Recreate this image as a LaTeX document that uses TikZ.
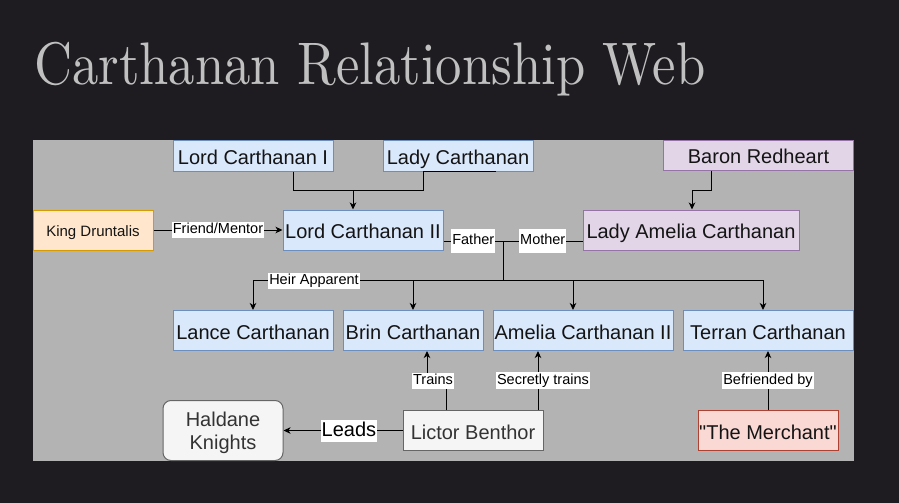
\documentclass[tikz,border=0pt]{standalone}
\usepackage{fontspec}
\usepackage{graphicx}
\newfontfamily\sansf{Liberation Sans}
\usetikzlibrary{arrows.meta,calc}
\definecolor{cbg}{HTML}{1F1C21}
\definecolor{cpanel}{HTML}{B3B3B3}
\definecolor{ctitle}{HTML}{C0C0C0}
\definecolor{cbluef}{HTML}{DAE8FC}
\definecolor{cblued}{HTML}{6C8EBF}
\definecolor{corangef}{HTML}{FFE6CC}
\definecolor{coranged}{HTML}{D79B00}
\definecolor{cpurplef}{HTML}{E1D5E7}
\definecolor{cpurpled}{HTML}{9673A6}
\definecolor{credf}{HTML}{FAD9D5}
\definecolor{credd}{HTML}{AE4132}
\definecolor{cgrayf}{HTML}{F5F5F5}
\definecolor{cgrayd}{HTML}{666666}
\definecolor{ctext}{HTML}{141414}
\definecolor{cgtext}{HTML}{333333}
\tikzset{
  nbox/.style={draw, line width=1pt, inner sep=0pt, align=center, font=\sansf\fontsize{20}{23}\selectfont, text=ctext, text height=17pt, text depth=0pt},
  bluebox/.style={nbox, fill=cbluef, draw=cblued},
  orangebox/.style={nbox, fill=corangef, draw=coranged},
  purplebox/.style={nbox, fill=cpurplef, draw=cpurpled},
  redbox/.style={nbox, fill=credf, draw=credd},
  graybox/.style={nbox, fill=cgrayf, draw=cgrayd, text=cgtext},
  lbl/.style={fill=white, inner xsep=1pt, inner ysep=1pt, text height=11pt, text depth=3.5pt, font=\sansf\fontsize{14.5}{16}\selectfont, text=black},
  conn/.style={line width=1pt, draw=black},
  arr/.style={conn, -{Stealth[length=7pt,width=6.5pt,inset=2pt]}},
}
\begin{document}
\begin{tikzpicture}[x=1pt,y=-1pt]
\useasboundingbox (0,0) rectangle (899,503);
\fill[cbg] (0,0) rectangle (899,503);
\node[anchor=base west, inner sep=0pt, text=ctitle] (title) at (34,84) {\resizebox{671pt}{42.3pt}{Carthanan Relationship Web}};
\fill[cpanel] (33,140) rectangle (854,461);

% nodes
\node[bluebox, minimum width=160pt, minimum height=31pt] (lc1) at (253,155.5) {Lord Carthanan I};
\node[bluebox, minimum width=150pt, minimum height=31pt] (ladyc) at (458,155.5) {Lady Carthanan};
\node[purplebox, minimum width=190pt, minimum height=30pt] (baron) at (758.5,155) {Baron Redheart};
\node[orangebox, minimum width=120pt, minimum height=40pt, font=\sansf\fontsize{15}{18}\selectfont, text height=12.5pt] (king) at (93,230) {King Druntalis};
\node[bluebox, minimum width=160pt, minimum height=40pt] (lc2) at (363,230) {Lord Carthanan II};
\node[purplebox, minimum width=216pt, minimum height=40pt] (amelia) at (691,230) {Lady Amelia Carthanan};
\node[bluebox, minimum width=160pt, minimum height=40pt] (lance) at (253,330.5) {Lance Carthanan};
\node[bluebox, minimum width=140pt, minimum height=40pt] (brin) at (413,330.5) {Brin Carthanan};
\node[bluebox, minimum width=180pt, minimum height=40pt] (amelia2) at (583,330.5) {Amelia Carthanan II};
\node[bluebox, minimum width=170pt, minimum height=40pt] (terran) at (768,330.5) {Terran Carthanan};
\node[graybox, minimum width=140pt, minimum height=40pt] (lictor) at (473,430.5) {Lictor Benthor};
\node[graybox, minimum width=120pt, minimum height=60pt, rounded corners=8pt, text height={}, text depth={}] (haldane) at (223,430.5) {\rule{0pt}{18.5pt}Haldane\\Knights};
\node[redbox, minimum width=140pt, minimum height=40pt] (merchant) at (768,430.5) {"The Merchant"};

% parents of Lord Carthanan II
\coordinate (j1) at (353,190);
\draw[conn] ([xshift=40pt]lc1.south) |- (j1);
\draw[conn] ([xshift=38pt]ladyc.south) -- ([xshift=-35pt]ladyc.south) |- (j1);
\draw[arr] (j1) -- (j1 |- lc2.north);

% Baron -> Lady Amelia
\draw[arr] ([xshift=-47.5pt]baron.south) -- ++(0,20) -| ([xshift=1pt]amelia.north);

% King -> Lord II
\draw[arr] (king) -- (lc2) node[lbl, midway] {Friend/Mentor};

% Father / Mother
\coordinate (j2) at (503,241);
\draw[conn] ([yshift=-11pt]lc2.east) -- (j2) node[lbl, midway, inner ysep=4.5pt] {Father};
\draw[conn] ([yshift=-11pt]amelia.west) -- (j2) node[lbl, midway, inner ysep=4.5pt] {Mother};

% children
\coordinate (j3) at (503,280);
\draw[conn] (j2) -- (j3);
\draw[arr] (j3) -| (lance.north);
\draw[arr] (j3) -| (brin.north);
\draw[arr] (j3) -| ([xshift=-10pt]amelia2.north);
\draw[arr] (j3) -| ([xshift=-5pt]terran.north);
\node[lbl] (heir) at (314,281) {Heir Apparent};

% Lictor edges
\draw[arr] ([xshift=-27pt]lictor.north) -- ++(0,-30) -| ([xshift=14pt]brin.south);
\node[lbl] (trains) at (433,381) {Trains};
\draw[arr] ([xshift=65pt]lictor.north) -- ([xshift=-45pt]amelia2.south) node[lbl, midway, xshift=5pt] {Secretly trains};
\draw[arr] (lictor) -- (haldane) node[lbl, pos=0.45, font=\sansf\fontsize{20}{23}\selectfont, text height=15.5pt, text depth=4.5pt] {Leads};

% Merchant -> Terran
\draw[arr] (merchant) -- (terran) node[lbl, midway] {Befriended by};
\end{tikzpicture}
\end{document}
